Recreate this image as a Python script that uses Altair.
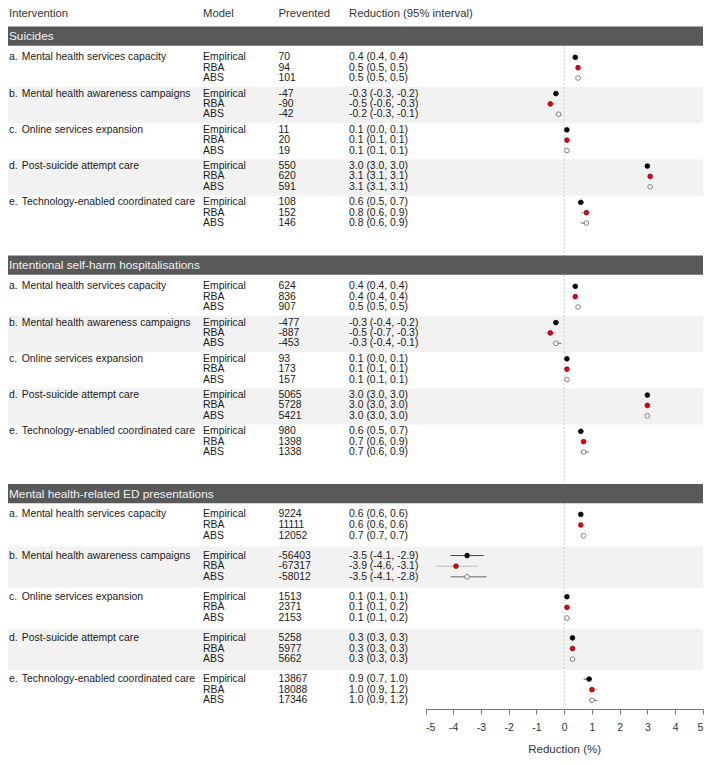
import altair as alt
import pandas as pd

# ---------------- data ----------------
sections = ["Suicides", "Intentional self-harm hospitalisations",
            "Mental health-related ED presentations"]
letters = ["a.", "b.", "c.", "d.", "e."]
interventions = ["Mental health services capacity", "Mental health awareness campaigns",
                 "Online services expansion", "Post-suicide attempt care",
                 "Technology-enabled coordinated care"]
models = ["Empirical", "RBA", "ABS"]

# order: intervention a..e, each with Empirical, RBA, ABS
suicides_prevented = [70, 94, 101, -47, -90, -42, 11, 20, 19, 550, 620, 591, 108, 152, 146]
suicides_est = [0.4, 0.5, 0.5, -0.3, -0.5, -0.2, 0.1, 0.1, 0.1, 3.0, 3.1, 3.1, 0.6, 0.8, 0.8]
suicides_lo = [0.4, 0.5, 0.5, -0.3, -0.6, -0.3, 0.0, 0.1, 0.1, 3.0, 3.1, 3.1, 0.5, 0.6, 0.6]
suicides_hi = [0.4, 0.5, 0.5, -0.2, -0.3, -0.1, 0.1, 0.1, 0.1, 3.0, 3.1, 3.1, 0.7, 0.9, 0.9]

ish_prevented = [624, 836, 907, -477, -887, -453, 93, 173, 157, 5065, 5728, 5421, 980, 1398, 1338]
ish_est = [0.4, 0.4, 0.5, -0.3, -0.5, -0.3, 0.1, 0.1, 0.1, 3.0, 3.0, 3.0, 0.6, 0.7, 0.7]
ish_lo = [0.4, 0.4, 0.5, -0.4, -0.7, -0.4, 0.0, 0.1, 0.1, 3.0, 3.0, 3.0, 0.5, 0.6, 0.6]
ish_hi = [0.4, 0.4, 0.5, -0.2, -0.3, -0.1, 0.1, 0.1, 0.1, 3.0, 3.0, 3.0, 0.7, 0.9, 0.9]

ed_prevented = [9224, 11111, 12052, -56403, -67317, -58012, 1513, 2371, 2153,
                5258, 5977, 5662, 13867, 18088, 17346]
ed_est = [0.6, 0.6, 0.7, -3.5, -3.9, -3.5, 0.1, 0.1, 0.1, 0.3, 0.3, 0.3, 0.9, 1.0, 1.0]
ed_lo = [0.6, 0.6, 0.7, -4.1, -4.6, -4.1, 0.1, 0.1, 0.1, 0.3, 0.3, 0.3, 0.7, 0.9, 0.9]
ed_hi = [0.6, 0.6, 0.7, -2.9, -3.1, -2.8, 0.1, 0.2, 0.2, 0.3, 0.3, 0.3, 1.0, 1.2, 1.2]

x_ticks = [-5, -4, -3, -2, -1, 0, 1, 2, 3, 4, 5]

section_data = [
    (suicides_prevented, suicides_est, suicides_lo, suicides_hi),
    (ish_prevented, ish_est, ish_lo, ish_hi),
    (ed_prevented, ed_est, ed_lo, ed_hi),
]

# ---------------- layout ----------------
def X(r):
    return 1 + (r - 7) * 0.98

def Y(r):
    return 5 + (r - 7) * 0.985

W = 695
H = round(Y(713))

sec_center = [29.5, 262, 494]
first_off = [21.5, 21.5, 21.0]
group_gap = [36.8, 36.8, 41.8]
row_gap = [10.5, 10.5, 10.8]
sec_half = 9.75

rows, bands, secs = [], [], []
for s, (prev, est, lo, hi) in enumerate(section_data):
    secs.append({"name": sections[s], "py": Y(sec_center[s]),
                 "y0": Y(sec_center[s] - sec_half), "y1": Y(sec_center[s] + sec_half)})
    for g in range(5):
        base = sec_center[s] + first_off[s] + g * group_gap[s]
        if g in (1, 3):
            c = base + row_gap[s] + 1
            bands.append({"y0": Y(c - group_gap[s] / 2), "y1": Y(c + group_gap[s] / 2)})
        for m in range(3):
            i = g * 3 + m
            rows.append({
                "letter": letters[g] if m == 0 else "",
                "name": interventions[g] if m == 0 else "",
                "model": models[m],
                "prevented": str(prev[i]),
                "est": est[i], "lo": lo[i], "hi": hi[i],
                "label": f"{est[i]:.1f} ({lo[i]:.1f}, {hi[i]:.1f})",
                "py": Y(base + m * row_gap[s]),
            })

df = pd.DataFrame(rows)
df_bands = pd.DataFrame(bands)
df_secs = pd.DataFrame(secs)
df_zero = pd.DataFrame({"x": [0], "y0": [Y(20)], "y1": [H]})

FONT = "Liberation Sans"
yscale = alt.Scale(domain=[0, H], range=[0, H], nice=False, zero=False)
xscale = alt.Scale(domain=[-5, 5], range=[X(432), X(715)], nice=False, zero=False)
xaxis = alt.Axis(values=x_ticks, labelExpr="'' + datum.value", title="Reduction (%)",
                 grid=False, tickSize=5, labelPadding=8, titlePadding=11,
                 labelFontSize=10.5, titleFontSize=11.5, titleFontWeight="normal",
                 labelColor="#333", titleColor="#333", tickColor="#777", domainColor="#777",
                 labelFont=FONT, titleFont=FONT)

band_layer = alt.Chart(df_bands).mark_rect(color="#f2f2f2").encode(
    x=alt.value(0), x2=alt.value(W),
    y=alt.Y("y0:Q", scale=yscale, axis=None), y2="y1:Q")

zero_layer = alt.Chart(df_zero).mark_rule(color="#c8c8c8", strokeDash=[2, 2], strokeWidth=1).encode(
    x=alt.X("x:Q", scale=xscale, axis=xaxis),
    y=alt.Y("y0:Q", scale=yscale, axis=None), y2="y1:Q")

sec_band = alt.Chart(df_secs).mark_rect(color="#595959").encode(
    x=alt.value(0), x2=alt.value(W),
    y=alt.Y("y0:Q", scale=yscale, axis=None), y2="y1:Q")

sec_text = alt.Chart(df_secs).mark_text(align="left", baseline="middle", font=FONT,
                                        fontSize=11.8, color="#f2f2f2").encode(
    x=alt.value(X(7)), y=alt.Y("py:Q", scale=yscale, axis=None), text="name:N")

headers = [("Intervention", 7), ("Model", 205), ("Prevented", 282),
           ("Reduction (95% interval)", 354)]
header_layers = []
for t, xr in headers:
    header_layers.append(
        alt.Chart(pd.DataFrame({"t": [t], "py": [Y(7)]})).mark_text(
            align="left", baseline="middle", font=FONT, fontSize=11.3, color="#333").encode(
            x=alt.value(X(xr)), y=alt.Y("py:Q", scale=yscale, axis=None), text="t:N"))

col_layers = []
for field, xr in [("letter", 7), ("name", 20), ("model", 205), ("prevented", 282), ("label", 354)]:
    col_layers.append(
        alt.Chart(df).mark_text(align="left", baseline="middle", font=FONT,
                                fontSize=10.4, color="#1a1a1a").encode(
            x=alt.value(X(xr)), y=alt.Y("py:Q", scale=yscale, axis=None),
            text=f"{field}:N"))

ci_layer = alt.Chart(df).mark_rule(strokeWidth=1).encode(
    x=alt.X("lo:Q", scale=xscale, axis=xaxis), x2="hi:Q",
    y=alt.Y("py:Q", scale=yscale, axis=None),
    stroke=alt.Stroke("model:N", scale=alt.Scale(domain=models, range=["#444", "#bbbbbb", "#666"]),
                      legend=None))

pt_layer = alt.Chart(df).mark_point(shape="circle", filled=True, size=22, strokeWidth=0.8,
                                    opacity=1).encode(
    x=alt.X("est:Q", scale=xscale, axis=xaxis),
    y=alt.Y("py:Q", scale=yscale, axis=None),
    fill=alt.Fill("model:N", scale=alt.Scale(domain=models, range=["#000000", "#e8001c", "#ffffff"]),
                  legend=None),
    stroke=alt.Stroke("model:N", scale=alt.Scale(domain=models, range=["#000000", "#8a0000", "#666666"]),
                      legend=None))

chart = alt.layer(band_layer, zero_layer, sec_band, sec_text, *header_layers, *col_layers,
                  ci_layer, pt_layer).properties(
    width=W, height=H, padding=0, background="white"
).resolve_scale(stroke="independent").configure_view(stroke=None)

chart.save("out.html", embed_options={"renderer": "svg", "actions": False})
